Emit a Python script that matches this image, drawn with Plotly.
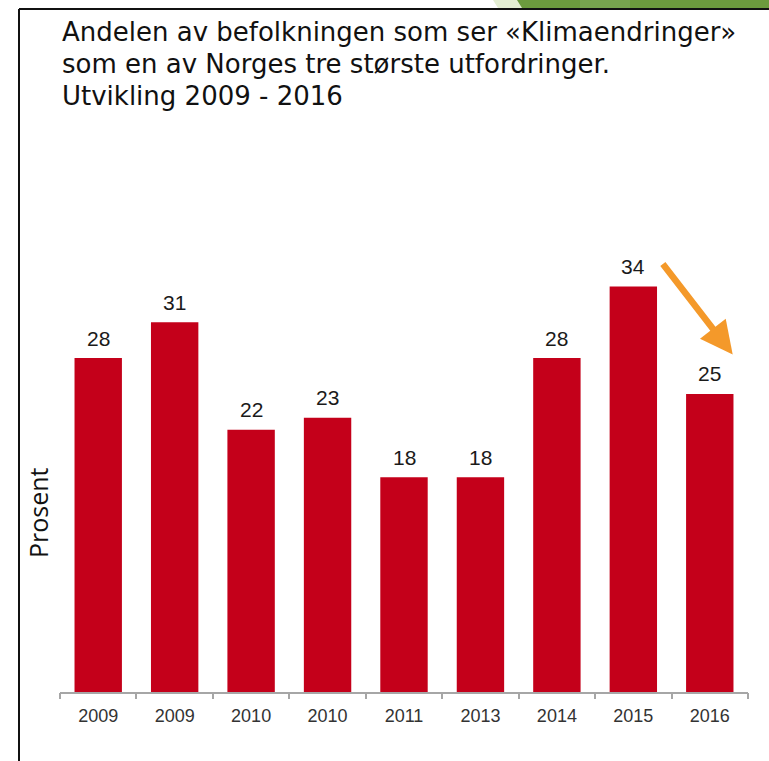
import plotly.graph_objects as go

# data
years = ["2009", "2009", "2010", "2010", "2011", "2013", "2014", "2015", "2016"]
andel = [28, 31, 22, 23, 18, 18, 28, 34, 25]
tittel = [
    "Andelen av befolkningen som ser «Klimaendringer»",
    "som en av Norges tre største utfordringer.",
    "Utvikling 2009 - 2016",
]

W, H = 769, 761
ML, MR, MT, MB = 60, 21, 215, 69
YMAX = 40

pos = list(range(len(years)))


def px_x(p):
    return (p - ML) / (W - ML - MR)


def px_y(p):
    return (H - MB - p) / (H - MT - MB)


fig = go.Figure(
    go.Bar(
        x=pos, y=andel,
        marker=dict(color="#C4001A", line_width=0),
        width=0.62,
        hoverinfo="x+y",
    )
)

annotations = []
# verdier over søylene
for p, v in zip(pos, andel):
    annotations.append(dict(
        text=str(v), x=p, y=v, xref="x", yref="y",
        yanchor="middle", yshift=20, showarrow=False,
        font=dict(family="Liberation Sans", size=21, color="#1a1a1a"),
    ))

for i, line in enumerate(tittel):
    annotations.append(dict(
        text=line, xref="paper", yref="paper",
        x=px_x(60), y=px_y(32 + 32 * i), xanchor="left", yanchor="middle",
        showarrow=False,
        font=dict(family="DejaVu Sans", size=26, color="#111"),
    ))

# y-akse tittel
annotations.append(dict(
    text="Prosent", xref="paper", yref="paper",
    x=px_x(38), y=px_y(513), textangle=-90, showarrow=False,
    xanchor="center", yanchor="middle",
    font=dict(family="Open Sans", size=25, color="#111"),
))

# pil 2015 -> 2016
annotations.append(dict(
    text="", x=8.3, y=28.3, xref="x", yref="y",
    ax=-71, ay=-92, axref="pixel", ayref="pixel",
    showarrow=True, arrowhead=2, arrowsize=1, arrowwidth=6.5,
    arrowcolor="#F4992A",
))

shapes = [
    # grønn stripe oppe til høyre
    dict(type="rect", xref="paper", yref="paper", layer="below",
         x0=px_x(515), x1=px_x(769), y0=px_y(8), y1=px_y(0),
         line_width=0, fillcolor="#6C9A3E"),
    dict(type="rect", xref="paper", yref="paper", layer="below",
         x0=px_x(580), x1=px_x(630), y0=px_y(8), y1=px_y(0),
         line_width=0, fillcolor="#77A44F"),
    dict(type="path", xref="paper", yref="paper", layer="below",
         path=f"M {px_x(493)},{px_y(0)} L {px_x(517)},{px_y(0)} L {px_x(522)},{px_y(8)} L {px_x(498)},{px_y(8)} Z",
         line_width=0, fillcolor="#E4EED3"),
    # ramme
    dict(type="line", xref="paper", yref="paper",
         x0=px_x(19), x1=px_x(769), y0=px_y(9), y1=px_y(9),
         line=dict(color="#111", width=2)),
    dict(type="line", xref="paper", yref="paper",
         x0=px_x(19), x1=px_x(19), y0=px_y(9), y1=px_y(761),
         line=dict(color="#111", width=2)),
]

fig.update_layout(
    width=W, height=H,
    margin=dict(l=ML, r=MR, t=MT, b=MB),
    paper_bgcolor="white", plot_bgcolor="white",
    showlegend=False,
    annotations=annotations,
    shapes=shapes,
    xaxis=dict(
        tickvals=pos, ticktext=years,
        range=[-0.5, len(years) - 0.5],
        showline=True, linecolor="#a6a6a6", linewidth=2,
        ticks="", showgrid=False, zeroline=False,
        ticklabelstandoff=6,
        tickfont=dict(family="Liberation Sans", size=18, color="#333"),
    ),
    xaxis2=dict(
        overlaying="x", matches="x", side="bottom",
        tickvals=[p - 0.5 for p in pos] + [len(years) - 0.5],
        showticklabels=False, ticks="outside", ticklen=6,
        tickcolor="#a6a6a6", tickwidth=2, showgrid=False, showline=False,
        anchor="y",
    ),
    yaxis=dict(range=[0, YMAX], visible=False),
)

# usynlig spor for å vise tick-streker på grensene
fig.add_trace(go.Scatter(x=[0], y=[0], xaxis="x2", mode="markers",
                         marker=dict(opacity=0), hoverinfo="skip"))

fig.write_html(
    "out.html",
    config={"displayModeBar": False},
    post_script="document.body.style.margin='0';document.body.style.overflow='hidden';",
)
